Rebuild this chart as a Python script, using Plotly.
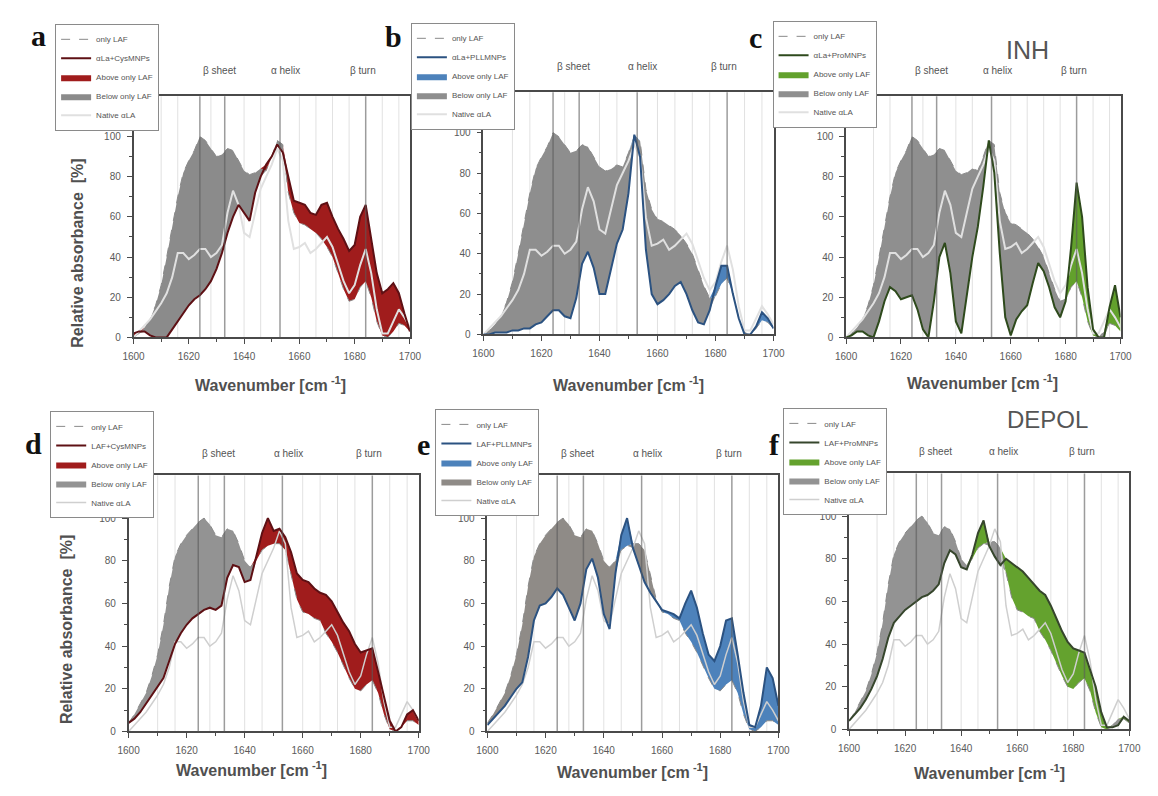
import plotly.graph_objects as go
import numpy as np

# ---------------- data ----------------
wavenumber = list(range(1600, 1701, 2))

laf_inh = [0, 2, 5, 9, 16, 26, 40, 55, 70, 82, 88, 93, 100, 98, 94, 90, 91, 94, 93, 88,
           83, 81, 82, 84, 83, 90, 98, 96, 72, 62, 57, 56, 54, 52, 49, 45, 40, 32, 24, 18,
           19, 25, 28, 20, 8, 1, 0, 3, 7, 6, 3]
laf_depol = [4, 8, 13, 18, 26, 36, 50, 68, 82, 88, 92, 95, 98, 100, 97, 92, 91, 95, 94, 88,
             80, 77, 80, 85, 87, 88, 88, 85, 74, 62, 56, 55, 53, 52, 46, 42, 37, 31, 25, 20,
             19, 22, 24, 18, 8, 1, 0, 2, 5, 5, 3]
native_ala = [0, 3, 6, 9, 13, 17, 22, 30, 42, 42, 39, 41, 44, 44, 40, 42, 46, 62, 73, 66,
              52, 50, 62, 74, 80, 86, 94, 88, 58, 44, 45, 47, 42, 44, 47, 50, 45, 36, 28, 22,
              26, 36, 44, 32, 14, 2, 2, 8, 14, 10, 5]

cys_inh = [2, 3, 3, 1, 0, 0, 0, 4, 8, 12, 16, 19, 21, 24, 28, 34, 42, 52, 60, 66,
           62, 58, 72, 80, 86, 90, 96, 92, 80, 68, 67, 66, 62, 61, 66, 67, 60, 54, 49, 43,
           46, 60, 66, 48, 32, 22, 24, 27, 22, 12, 3]
pll_inh = [0, 0, 1, 1, 1, 2, 2, 3, 3, 5, 6, 9, 12, 12, 9, 8, 18, 35, 41, 33,
           20, 20, 32, 45, 52, 70, 99, 88, 42, 20, 15, 17, 20, 24, 26, 20, 12, 6, 5, 12,
           24, 34, 34, 20, 8, 0, 0, 4, 11, 8, 3]
pro_inh = [0, 1, 3, 3, 1, 0, 8, 18, 25, 23, 19, 20, 21, 14, 4, 0, 18, 40, 47, 32,
           8, 2, 22, 40, 55, 75, 98, 82, 42, 10, 1, 9, 13, 16, 27, 37, 33, 25, 15, 10,
           18, 45, 77, 60, 25, 4, 0, 0, 15, 26, 10]
cys_depol = [4, 6, 9, 13, 17, 21, 25, 33, 41, 46, 50, 53, 55, 57, 58, 57, 59, 72, 78, 77,
             70, 71, 82, 93, 100, 94, 95, 91, 84, 74, 71, 70, 67, 65, 64, 61, 56, 51, 47, 41,
             37, 38, 39, 28, 17, 5, 0, 2, 8, 10, 5]
pll_depol = [3, 6, 9, 12, 16, 20, 23, 35, 52, 59, 60, 63, 67, 64, 58, 52, 60, 76, 81, 72,
             55, 48, 74, 92, 100, 86, 78, 70, 65, 61, 57, 56, 55, 53, 60, 66, 58, 46, 36, 33,
             40, 52, 53, 36, 18, 3, 2, 12, 30, 25, 12]
pro_depol = [4, 7, 10, 14, 19, 25, 33, 43, 50, 53, 56, 58, 60, 62, 63, 65, 68, 78, 84, 82,
             76, 75, 82, 92, 98, 86, 81, 77, 80, 78, 76, 74, 71, 68, 65, 63, 58, 52, 46, 41,
             38, 37, 36, 28, 20, 8, 1, 1, 2, 6, 4]

sample_names = ["αLa+CysMNPs", "αLa+PLLMNPs", "αLa+ProMNPs",
                "LAF+CysMNPs", "LAF+PLLMNPs", "LAF+ProMNPs"]
panel_letters = ["a", "b", "c", "d", "e", "f"]
band_major = [1624, 1633, 1653, 1684]
band_minor = [1610, 1616, 1628, 1640, 1646, 1660, 1666, 1672, 1678, 1690, 1696]
band_labels = ["β sheet", "α helix", "β turn"]
band_label_pos = [1631, 1655, 1683]
x_ticks = [1600, 1620, 1640, 1660, 1680, 1700]
y_ticks = [0, 20, 40, 60, 80, 100]

# ---------------- styling / layout ----------------
W, H = 1158, 796
samples = [cys_inh, pll_inh, pro_inh, cys_depol, pll_depol, pro_depol]
lafs = [laf_inh, laf_inh, laf_inh, laf_depol, laf_depol, laf_depol]
line_cols = ["#5e1014", "#2b5281", "#2e4a1c", "#5e1014", "#2b5281", "#36462c"]
fill_cols = ["#a01c1c", "#4d82bb", "#62a12c", "#a01c1c", "#4d82bb", "#64a22e"]
gray_cols = ["#8b8b8b", "#8e8e8e", "#8f8f8f", "#939393", "#8f8b87", "#939393"]
# plot boxes in pixels: x0, x1, ytop, ybottom
boxes = [(125, 407, 97, 340), (482, 778, 93, 337), (852, 1132, 97, 340),
         (120, 416, 479, 737), (486, 783, 479, 737), (855, 1141, 477, 735)]
legend_pos = [(45, 24), (408, 23), (777, 21), (40, 414), (433, 412), (788, 411)]
letter_pos = [(28, 36), (390, 37), (760, 38), (23, 447), (421, 448), (779, 448)]
xtitle_pos = [(265, 387), (630, 387), (991, 385), (245, 775), (634, 777), (998, 778)]

FONT = "Liberation Sans, Arial, sans-serif"
fig = go.Figure()
annotations = []
shapes = []
layout = {}

x = np.array(wavenumber)
for i in range(6):
    xa = "x" if i == 0 else f"x{i+1}"
    ya = "y" if i == 0 else f"y{i+1}"
    lg = "legend" if i == 0 else f"legend{i+1}"
    s = np.array(samples[i], dtype=float)
    l = np.array(lafs[i], dtype=float)
    lo = np.minimum(s, l)
    hi = np.maximum(s, l)
    common = dict(xaxis=xa, yaxis=ya, legend=lg)
    # below fill
    fig.add_trace(go.Scatter(x=x, y=l, mode="lines", line=dict(width=0), showlegend=False,
                             hoverinfo="skip", **common))
    fig.add_trace(go.Scatter(x=x, y=lo, mode="lines", line=dict(width=0, color=gray_cols[i]),
                             fill="tonexty", fillcolor=gray_cols[i], name="Below only LAF",
                             legendrank=4, **common))
    # above fill
    fig.add_trace(go.Scatter(x=x, y=l, mode="lines", line=dict(width=0), showlegend=False,
                             hoverinfo="skip", **common))
    fig.add_trace(go.Scatter(x=x, y=hi, mode="lines", line=dict(width=0, color=fill_cols[i]),
                             fill="tonexty", fillcolor=fill_cols[i], name="Above only LAF",
                             legendrank=3, **common))
    # only LAF line
    fig.add_trace(go.Scatter(x=x, y=l, mode="lines", line=dict(width=1, color="#8a8a8a", dash="dash"),
                             name="only LAF", legendrank=1, **common))
    # native line
    fig.add_trace(go.Scatter(x=x, y=native_ala, mode="lines",
                             line=dict(width=2 if i < 3 else 1.5, color="#e0e0e0" if i < 3 else "#cfcfcf"),
                             name="Native αLA", legendrank=5, **common))
    # sample line
    fig.add_trace(go.Scatter(x=x, y=s, mode="lines", line=dict(width=2, color=line_cols[i]),
                             name=sample_names[i], legendrank=2, **common))

    x0, x1, yt, yb = boxes[i]
    axis_common = dict(showline=True, mirror=True, linecolor="#4a4a4a", linewidth=1.5,
                       ticks="outside", ticklen=5, tickwidth=1.2, tickcolor="#4a4a4a",
                       showgrid=False, zeroline=False,
                       tickfont=dict(family=FONT, size=10, color="#5a5a5a"))
    layout[("xaxis" if i == 0 else f"xaxis{i+1}")] = dict(
        domain=[x0 / W, x1 / W], anchor=ya, range=[1600, 1700], tickvals=x_ticks,
        minor=dict(dtick=10, ticklen=3, ticks="outside", tickcolor="#4a4a4a"),
        ticklabelstandoff=4, **axis_common)
    layout[("yaxis" if i == 0 else f"yaxis{i+1}")] = dict(
        domain=[1 - yb / H, 1 - yt / H], anchor=xa, range=[0, 120], tickvals=y_ticks,
        minor=dict(tickvals=[10, 30, 50, 70, 90, 110], ticklen=3, ticks="outside", tickcolor="#4a4a4a"),
        ticklabelstandoff=4, **axis_common)

    lx, ly = legend_pos[i]
    layout[lg] = dict(x=lx / W, y=1 - ly / H, xanchor="left", yanchor="top",
                      bgcolor="white", bordercolor="#8a8a8a", borderwidth=1,
                      font=dict(family=FONT, size=8, color="#555"), tracegroupgap=0,
                      itemwidth=30, traceorder="normal")

    for v in band_minor:
        shapes.append(dict(type="line", xref=xa, yref=f"{ya} domain", x0=v, x1=v, y0=0, y1=1,
                           line=dict(color="rgba(200,200,200,0.55)", width=1), layer="below"))
    for v in band_major:
        shapes.append(dict(type="line", xref=xa, yref=f"{ya} domain", x0=v, x1=v, y0=0, y1=1,
                           line=dict(color="rgba(90,90,90,0.6)", width=1.5), layer="above"))
    for t, p in zip(band_labels, band_label_pos):
        annotations.append(dict(text=t, x=p, xref=xa, y=1.105 if i < 3 else 1.085,
                                yref=f"{ya} domain", showarrow=False, xanchor="center",
                                yanchor="middle",
                                font=dict(family=FONT, size=10, color="#555")))
    px, py = letter_pos[i]
    annotations.append(dict(text=f"<b>{panel_letters[i]}</b>", x=px / W, y=1 - py / H,
                            xref="paper", yref="paper", showarrow=False, xanchor="center",
                            yanchor="middle",
                            font=dict(family="Liberation Serif, Times New Roman, serif",
                                      size=30, color="#111")))
    tx, ty = xtitle_pos[i]
    annotations.append(dict(text="<b>Wavenumber [cm<sup> -1</sup>]</b>", x=tx / W, y=1 - ty / H,
                            xref="paper", yref="paper", showarrow=False, xanchor="center",
                            yanchor="middle", font=dict(family=FONT, size=16, color="#505050")))

for (cx, cy) in [(67, 255), (56, 634)]:
    annotations.append(dict(text="<b>Relative absorbance  [%]</b>", x=cx / W, y=1 - cy / H,
                            xref="paper", yref="paper", showarrow=False, textangle=-90,
                            xanchor="center", yanchor="middle",
                            font=dict(family=FONT, size=16, color="#505050")))
annotations.append(dict(text="INH", x=1061 / W, y=1 - 34 / H, xref="paper", yref="paper",
                        showarrow=False, font=dict(family=FONT, size=25, color="#555")))
annotations.append(dict(text="DEPOL", x=1101 / W, y=1 - 423 / H, xref="paper", yref="paper",
                        showarrow=False, font=dict(family=FONT, size=24, color="#555")))

fig.update_layout(width=W, height=H, autosize=False, margin=dict(l=0, r=0, t=0, b=0),
                  paper_bgcolor="white", plot_bgcolor="white",
                  annotations=annotations, shapes=shapes, **layout)
fig.write_html("out.html")
